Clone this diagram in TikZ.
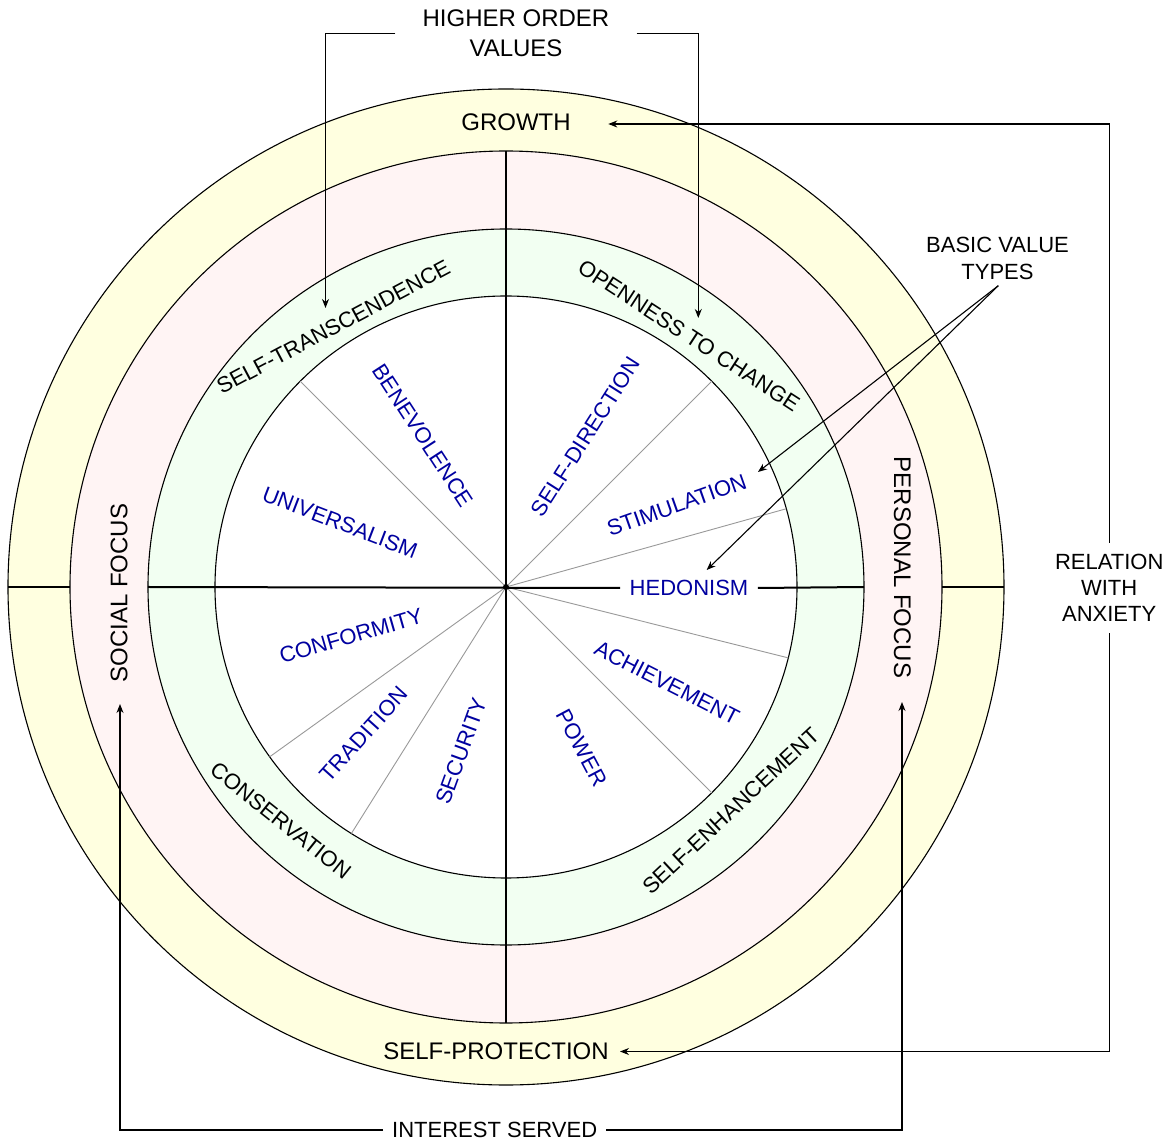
\documentclass[tikz,border=0pt]{standalone}
\usepackage{fontspec}
\setmainfont{Liberation Sans}
\usetikzlibrary{arrows.meta}
\definecolor{ringY}{RGB}{255,255,224}
\definecolor{ringP}{RGB}{255,244,244}
\definecolor{ringG}{RGB}{242,255,242}
\definecolor{valblue}{RGB}{0,0,160}
\begin{document}
\begin{tikzpicture}[x=1pt,y=1pt,
  ring/.style={draw=black,line width=1.1pt},
  axis/.style={draw=black,line width=2pt},
  sector/.style={draw=black!40,line width=0.9pt},
  conn/.style={draw=black,line width=1.1pt},
  arr/.style={conn,-{Stealth[length=9pt,width=7pt]}},
  big/.style={font=\fontsize{24}{29.5}\selectfont,align=center},
  lab/.style={font=\fontsize{22}{26.4}\selectfont,align=center},
  ringlab/.style={font=\fontsize{22}{26}\selectfont,inner sep=0pt},
  val/.style={font=\fontsize{22}{26}\selectfont,text=valblue,inner sep=0pt},
]
\useasboundingbox (-506,-555) rectangle (664,587);
\fill[white] (-506,-555) rectangle (664,587);
% rings
\draw[ring,fill=ringY] (0,0) circle (498pt);
\draw[ring,fill=ringP] (0,0) circle (436pt);
\draw[ring,fill=ringG] (0,0) circle (358pt);
\draw[ring,fill=white] (0,0) circle (291pt);
% sector lines
\foreach \a in {135,45,15.6,-14.1,-45,215.7,237.9}
  \draw[sector] (0,0) -- (\a:291pt);
% value labels
\node[val] (ben) at (-82.7,151.5) [rotate=-57] {BENEVOLENCE};
\node[val] (uni) at (-166,64.5) [rotate=-21] {UNIVERSALISM};
\node[val] (sdir) at (79.8,150.3) [rotate=57.5] {SELF-DIRECTION};
\node[val] (stim) at (170.7,82) [rotate=19.5] {STIMULATION};
\node[val,inner xsep=9.5pt] (hed) at (183,-1) {HEDONISM};
\node[val] (ach) at (161,-96) [rotate=-27] {ACHIEVEMENT};
\node[val] (pow) at (76,-161) [rotate=-62] {POWER};
\node[val] (sec) at (-45,-164) [rotate=70] {SECURITY};
\node[val] (tra) at (-142,-147) [rotate=48] {TRADITION};
\node[val] (con) at (-155,-49) [rotate=16] {CONFORMITY};
% axes
\draw[axis] (-498,0) -- (-436,0);
\draw[axis] (436,0) -- (498,0);
\draw[axis] (0,436) -- (0,-436);
\draw[axis] (-358,0) -- (hed.west);
\draw[axis] (hed.east) -- (358,0);
\fill (0,0) circle (3pt);
% ring labels
\node[ringlab] (st) at (-172.7,260) [rotate=28] {SELF-TRANSCENDENCE};
\node[ringlab] (otc) at (183,251.2) [rotate=-33] {OPENNESS TO CHANGE};
\node[ringlab] (se) at (224.8,-223.8) [rotate=43] {SELF-ENHANCEMENT};
\node[ringlab] (cons) at (-225.2,-233.5) [rotate=-38.5] {CONSERVATION};
\node[big,inner sep=0pt] (sf) at (-386.8,-6) [rotate=90] {SOCIAL FOCUS};
\node[big,inner sep=0pt] (pf) at (396.5,19.5) [rotate=-90] {PERSONAL FOCUS};
\node[big,inner sep=0pt] (gr) at (10,465) {GROWTH};
\node[big,inner sep=0pt] (sp) at (-10,-464) {SELF-PROTECTION};
% outside labels
\node[big,inner xsep=27pt,inner ysep=0pt] (hov) at (10,553.7) {HIGHER ORDER\\VALUES};
\node[lab,inner sep=0pt] (bvt) at (491.5,328.4) {BASIC VALUE\\TYPES};
\node[lab,inner xsep=0pt,inner ysep=11pt] (rwa) at (603.2,-0.8) {RELATION\\WITH\\ANXIETY};
\node[lab,inner xsep=9pt,inner ysep=0pt] (is) at (-11.3,-543) {INTEREST SERVED};
% connector ends
\coordinate (hovL) at (-180.5,279);
\coordinate (hovR) at (192.3,269);
\coordinate (bvtO) at (492.3,301.3);
\coordinate (stimTip) at (252,115);
\coordinate (hedTip) at (200.7,17);
\coordinate (grTip) at (102.3,463);
\coordinate (spTip) at (114,-464.5);
\coordinate (sfTip) at (-386,-117);
\coordinate (pfTip) at (396,-115);
% connectors
\draw[arr] (hov.west) -| (hovL);
\draw[arr] (hov.east) -| (hovR);
\draw[arr] (bvtO) -- (stimTip);
\draw[arr] (bvtO) -- (hedTip);
\draw[arr] (rwa.north) |- (grTip);
\draw[arr] (rwa.south) |- (spTip);
\draw[arr] (is.west) -| (sfTip);
\draw[arr] (is.east) -| (pfTip);
\end{tikzpicture}
\end{document}
